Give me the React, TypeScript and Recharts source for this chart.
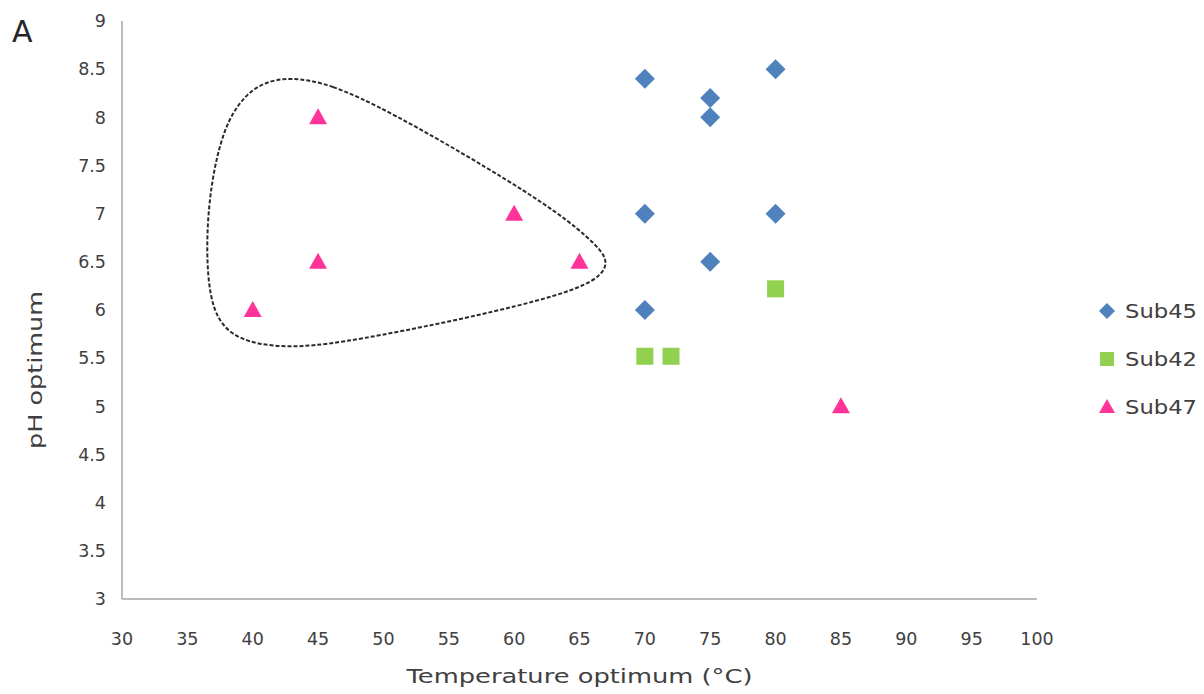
import React from 'react';
import { ScatterChart, Scatter, XAxis, YAxis } from 'recharts';

const sub45 = [
  { x: 70, y: 8.4 }, { x: 75, y: 8.2 }, { x: 75, y: 8.0 }, { x: 80, y: 8.5 },
  { x: 70, y: 7.0 }, { x: 80, y: 7.0 }, { x: 75, y: 6.5 }, { x: 70, y: 6.0 },
];
const sub42 = [
  { x: 80, y: 6.22 }, { x: 70, y: 5.52 }, { x: 72, y: 5.52 },
];
const sub47 = [
  { x: 45, y: 8.0 }, { x: 60, y: 7.0 }, { x: 65, y: 6.5 }, { x: 45, y: 6.5 },
  { x: 40, y: 6.0 }, { x: 85, y: 5.0 },
];
const loopOutline = [
  { x: 42.85, y: 8.42 }, { x: 45.9, y: 8.35 }, { x: 50.5, y: 8.06 }, { x: 58.2, y: 7.46 },
  { x: 63.5, y: 7.0 }, { x: 66.3, y: 6.68 }, { x: 67.4, y: 6.48 }, { x: 66.0, y: 6.26 },
  { x: 60.4, y: 6.04 }, { x: 53.0, y: 5.82 }, { x: 46.7, y: 5.66 }, { x: 42.6, y: 5.6 },
  { x: 38.7, y: 5.68 }, { x: 36.8, y: 5.97 }, { x: 36.4, y: 6.62 }, { x: 36.75, y: 7.3 },
  { x: 37.8, y: 7.9 }, { x: 39.2, y: 8.2 }, { x: 40.7, y: 8.36 },
];
const xTicks = [30, 35, 40, 45, 50, 55, 60, 65, 70, 75, 80, 85, 90, 95, 100];
const yTicks = [3, 3.5, 4, 4.5, 5, 5.5, 6, 6.5, 7, 7.5, 8, 8.5, 9];
const seriesNames = ['Sub45', 'Sub42', 'Sub47'];

const BLUE = '#4F81BD';
const GREEN = '#92D050';
const PINK = '#FF3399';
const FONT = '"DejaVu Sans", sans-serif';
const TEXT = '#404040';

const Diamond = (p: any) => {
  const { cx, cy } = p;
  const r = 10;
  return <polygon points={`${cx},${cy - r} ${cx + r},${cy} ${cx},${cy + r} ${cx - r},${cy}`} fill={BLUE} />;
};
const Square = (p: any) => {
  const { cx, cy } = p;
  const r = 8.5;
  return <rect x={cx - r} y={cy - r} width={2 * r} height={2 * r} fill={GREEN} />;
};
const Triangle = (p: any) => {
  const { cx, cy } = p;
  return <polygon points={`${cx},${cy - 9} ${cx + 9},${cy + 7} ${cx - 9},${cy + 7}`} fill={PINK} />;
};
const Empty = () => <g />;

const legendIcons = [
  (x: number, y: number) => <polygon points={`${x},${y - 8} ${x + 8},${y} ${x},${y + 8} ${x - 8},${y}`} fill={BLUE} />,
  (x: number, y: number) => <rect x={x - 7} y={y - 7} width={14} height={14} fill={GREEN} />,
  (x: number, y: number) => <polygon points={`${x},${y - 8} ${x + 8},${y + 6} ${x - 8},${y + 6}`} fill={PINK} />,
];

export default function App() {
  return (
    <div style={{ position: 'absolute', left: 8, top: 8, width: 1188, height: 686 }}>
      <ScatterChart width={1188} height={686} margin={{ top: 13, right: 159, bottom: 35, left: 0 }}>
        <XAxis
          type="number"
          dataKey="x"
          domain={[30, 100]}
          ticks={xTicks}
          interval={0}
          height={60}
          tickLine={false}
          axisLine={{ stroke: '#A6A6A6', strokeWidth: 1.5 }}
          tick={{ fill: TEXT, fontSize: 17.5, fontFamily: FONT }}
          tickMargin={28}
          label={(props: any) => {
            const vb = props.viewBox;
            return (
              <text x={vb.x + vb.width / 2} y={675} textAnchor="middle" fontSize={20} fontFamily={FONT} fill={TEXT}
                textLength={346} lengthAdjust="spacingAndGlyphs">
                Temperature optimum (°C)
              </text>
            );
          }}
        />
        <YAxis
          type="number"
          dataKey="y"
          domain={[3, 9]}
          ticks={yTicks}
          interval={0}
          width={114}
          tickLine={false}
          axisLine={{ stroke: '#A6A6A6', strokeWidth: 1.5 }}
          tick={{ fill: TEXT, fontSize: 17.5, fontFamily: FONT }}
          tickMargin={10}
          label={(props: any) => {
            const vb = props.viewBox;
            const cx = 27;
            const cy = vb.y + vb.height / 2 + 60;
            return (
              <text x={cx} y={cy} transform={`rotate(-90 ${cx} ${cy})`} textAnchor="middle" dy="0.35em" fontSize={20} fontFamily={FONT} fill={TEXT}
                textLength={158} lengthAdjust="spacingAndGlyphs">
                pH optimum
              </text>
            );
          }}
        />
        <Scatter
          name="outline"
          data={loopOutline}
          line={{ stroke: '#2a2a2a', strokeWidth: 2, strokeDasharray: '4 2' }}
          lineJointType="basisClosed"
          shape={Empty}
          legendType="none"
          isAnimationActive={false}
        />
        <Scatter name={seriesNames[0]} data={sub45} shape={Diamond} fill={BLUE} isAnimationActive={false} />
        <Scatter name={seriesNames[1]} data={sub42} shape={Square} fill={GREEN} isAnimationActive={false} />
        <Scatter name={seriesNames[2]} data={sub47} shape={Triangle} fill={PINK} isAnimationActive={false} />
      </ScatterChart>
      <svg width={1188} height={686} style={{ position: 'absolute', left: 0, top: 0, pointerEvents: 'none' }}>
        <text x={4} y={34} fontSize={30} fontFamily={FONT} fill="#262626">A</text>
        {seriesNames.map((name, i) => (
          <g key={name}>
            {legendIcons[i](1099, 303 + i * 48)}
            <text x={1117} y={303 + i * 48} dy="0.35em" fontSize={20} fontFamily={FONT} fill={TEXT}
              textLength={72} lengthAdjust="spacingAndGlyphs">{name}</text>
          </g>
        ))}
      </svg>
    </div>
  );
}
